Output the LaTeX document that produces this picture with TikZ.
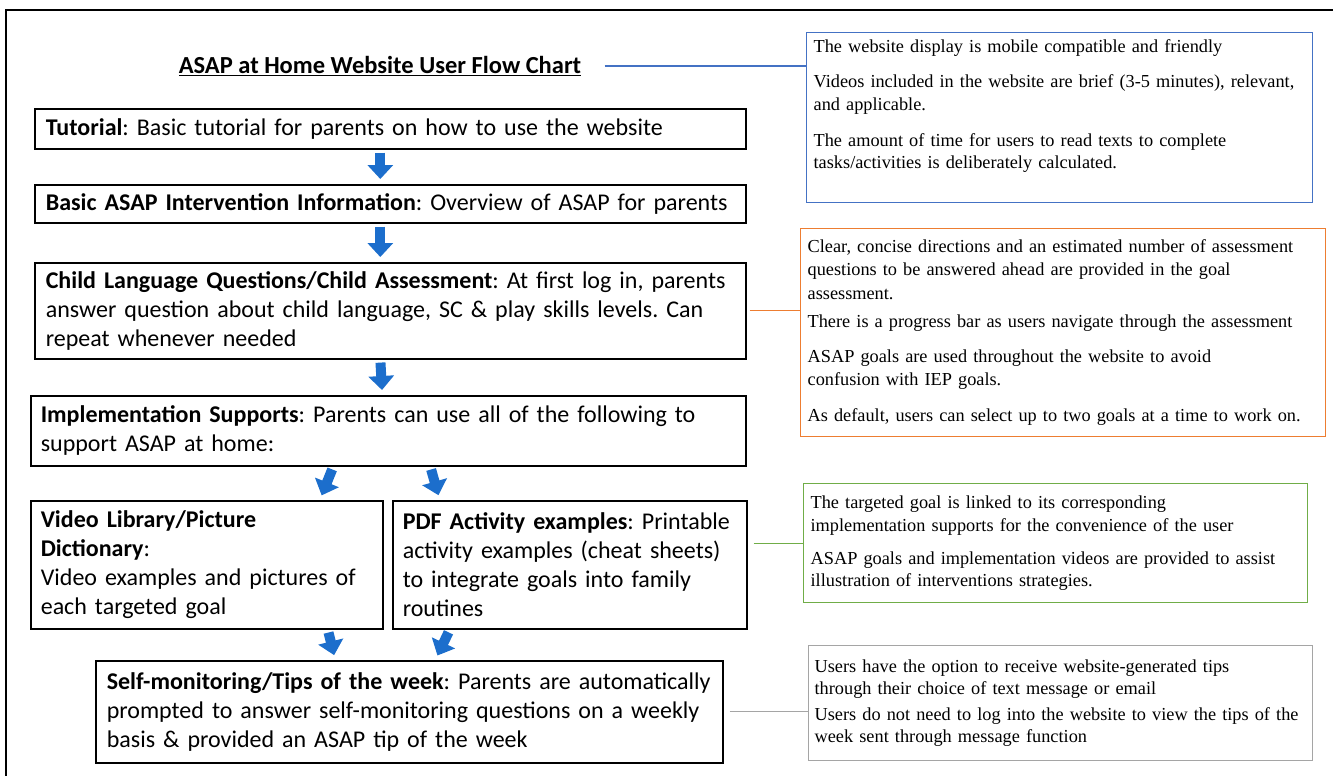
\documentclass[tikz,border=0pt]{standalone}
\usepackage{fontspec}
\setmainfont{Carlito}
\newfontfamily\notefont{Liberation Serif}
\usetikzlibrary{arrows.meta}
\frenchspacing

\definecolor{arrowblue}{RGB}{28,110,204}
\definecolor{noteblue}{RGB}{68,114,196}
\definecolor{noteorange}{RGB}{237,125,49}
\definecolor{notegreen}{RGB}{112,173,71}
\definecolor{notegrey}{RGB}{165,165,165}

\tikzset{
  flowbox/.style={draw, line width=1.6pt, anchor=north west, align=left, inner xsep=11pt, inner ysep=0pt,
    font=\fontsize{24}{29}\selectfont},
  notebox/.style={draw, line width=1.3pt, anchor=north west, align=left, inner xsep=7pt, inner ysep=0pt,
    font=\notefont\fontsize{18.3}{22.5}\selectfont},
  flowarrow/.style={arrowblue, line width=10pt, -{Triangle[length=14pt,width=25pt]}, shorten <=3pt, shorten >=5pt},
  noteline/.style={line width=1.3pt}
}

\begin{document}
\begin{tikzpicture}[x=1pt,y=-1pt]

\useasboundingbox (0,0) rectangle (1333,776);

% Draw the frame
\draw[line width=1.4pt] (6,776) -- (6,10) -- (1333,10);

% Draw the title
\node[font=\fontsize{24.5}{28}\selectfont] (title) at (380,66) {\underline{\textbf{ASAP at Home Website User Flow Chart}}};

% Draw the flow boxes
\node[flowbox, text width=689pt, minimum height=40pt] (tut) at (34,108) {\textbf{Tutorial}: Basic tutorial for parents on how to use the website};
\node[flowbox, text width=689pt, minimum height=38pt] (basic) at (34,184) {\textbf{Basic ASAP Intervention Information}: Overview of ASAP for parents};
\node[flowbox, text width=689pt, minimum height=96pt] (child) at (34,262) {\textbf{Child Language Questions/Child Assessment}: At first log in, parents\\
answer question about child language, SC \& play skills levels. Can\\
repeat whenever needed};
\node[flowbox, text width=695pt, inner xsep=10pt, minimum height=70pt] (impl) at (30,395) {\textbf{Implementation Supports}: Parents can use all of the following to\\
support ASAP at home:};
\node[flowbox, text width=332pt, inner xsep=10pt, minimum height=128pt] (video) at (30,500) {\textbf{Video Library/Picture}\\
\textbf{Dictionary}:\\
Video examples and pictures of\\
each targeted goal};
\node[flowbox, text width=334pt, inner xsep=10pt, minimum height=128pt] (pdf) at (392,500) {\textbf{PDF Activity examples}: Printable\\
activity examples (cheat sheets)\\
to integrate goals into family\\
routines};
\node[flowbox, text width=605pt, minimum height=102pt] (self) at (95,660) {\textbf{Self-monitoring/Tips of the week}: Parents are automatically\\
prompted to answer self-monitoring questions on a weekly\\
basis \& provided an ASAP tip of the week};

% Draw the arrows between the boxes
\draw[flowarrow] ([xshift=-10pt]tut.south) -- ([xshift=-10pt]basic.north);
\draw[flowarrow] ([xshift=-10pt]basic.south) -- ([xshift=-10pt]child.north);
\draw[flowarrow] ([xshift=-10pt]child.south) -- ([xshift=-6pt]impl.north);
\draw[flowarrow] ([xshift=-55pt]impl.south) -- ([xshift=113pt]video.north);
\draw[flowarrow] ([xshift=42pt]impl.south) -- ([xshift=-130pt]pdf.north);
\draw[flowarrow] ([xshift=121pt]video.south) -- ([xshift=-74pt]self.north);
\draw[flowarrow] ([xshift=-120pt]pdf.south) -- ([xshift=26pt]self.north);

% Draw the notes
\node[notebox, draw=noteblue, text width=492pt, minimum height=170pt] (bluenote) at (806,32) {The website display is mobile compatible and friendly\\[12.5pt]
Videos included in the website are brief (3-5 minutes), relevant,\\
and applicable.\\[13.5pt]
The amount of time for users to read texts to complete\\
tasks/activities is deliberately calculated.\\[4pt]
\mbox{}};
\node[notebox, draw=noteorange, text width=511pt, minimum height=208pt] (orangenote) at (800,228) {Clear, concise directions and an estimated number of assessment\\[1pt]
questions to be answered ahead are provided in the goal\\[1pt]
assessment.\\[5.5pt]
There is a progress bar as users navigate through the assessment\\[12.5pt]
ASAP goals are used throughout the website to avoid\\[1pt]
confusion with IEP goals.\\[13.5pt]
As default, users can select up to two goals at a time to work on.};
\node[notebox, draw=notegreen, text width=490pt, minimum height=119pt] (greennote) at (803,483) {The targeted goal is linked to its corresponding\\
implementation supports for the convenience of the user\\[10.5pt]
ASAP goals and implementation videos are provided to assist\\
illustration of interventions strategies.};
\node[notebox, draw=notegrey, text width=492pt, inner xsep=6pt, minimum height=115pt] (greynote) at (808,645) {Users have the option to receive website-generated tips\\
through their choice of text message or email\\[3pt]
Users do not need to log into the website to view the tips of the\\
week sent through message function};

% Draw the lines to the notes
\draw[noteline, noteblue, shorten <=20pt] (title.east) -- (title.east -| bluenote.west);
\draw[noteline, noteorange, shorten <=3pt] (child.east) -- (child.east -| orangenote.west);
\draw[noteline, notegreen, shorten <=6pt] (greennote.west -| pdf.east) -- (greennote.west);
\draw[noteline, notegrey, shorten <=6pt] (self.east) -- (self.east -| greynote.west);

\end{tikzpicture}
\end{document}
